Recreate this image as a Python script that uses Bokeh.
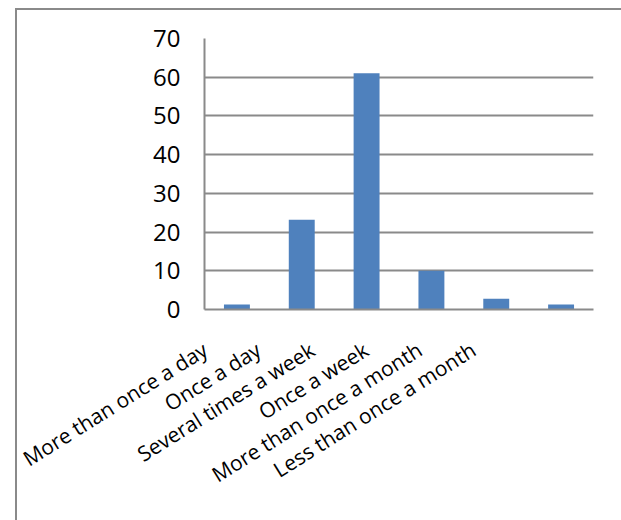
import math
from bokeh.plotting import figure
from bokeh.models import Range1d, LinearAxis, FixedTicker, ColumnDataSource
from bokeh.embed import file_html
from bokeh.resources import INLINE

categories = ["More than once a day", "Once a day", "Several times a week",
              "Once a week", "More than once a month", "Less than once a month"]
counts = [1.3, 23.2, 61, 10, 2.8, 1.3]
y_ticks = [0, 10, 20, 30, 40, 50, 60, 70]

GRAY = "#8a8a8a"
FONT = "Open Sans"

idx = list(range(len(categories)))
src = ColumnDataSource(dict(idx=idx, cat=categories, val=counts))

p = figure(width=606, height=512,
           x_range=Range1d(-0.5, len(categories) - 0.5),
           y_range=Range1d(0, 70),
           output_backend="svg", toolbar_location=None,
           x_axis_location=None,
           margin=(8, 0, 0, 15),
           min_border_left=187, min_border_right=30,
           min_border_top=28, min_border_bottom=213)
p.styles = {"border-left": "2px solid " + GRAY, "border-top": "2px solid " + GRAY}
p.outline_line_color = None
p.background_fill_color = "white"
p.border_fill_color = "white"

p.vbar(x="idx", top="val", width=0.4, source=src, fill_color="#4F81BD", line_color=None)

p.xgrid.visible = False
p.ygrid.ticker = FixedTicker(ticks=y_ticks)
p.ygrid.grid_line_color = GRAY
p.ygrid.grid_line_width = 2

ya = p.yaxis[0]
ya.ticker = FixedTicker(ticks=y_ticks)
ya.major_tick_line_color = None
ya.minor_tick_line_color = None
ya.major_tick_out = 0
ya.major_tick_in = 0
ya.axis_line_color = GRAY
ya.axis_line_width = 2
ya.major_label_standoff = 24
ya.major_label_text_font = FONT
ya.major_label_text_font_size = "24px"
ya.major_label_text_color = "black"

p.extra_x_ranges = {"lab": Range1d(-0.0056, 7.233)}
xa = LinearAxis(x_range_name="lab",
                ticker=FixedTicker(ticks=idx),
                major_label_overrides={i: c for i, c in zip(idx, categories)},
                major_label_orientation=math.radians(32),
                major_tick_line_color=None, minor_tick_line_color=None,
                major_tick_out=0, major_tick_in=0,
                axis_line_color=GRAY, axis_line_width=2,
                major_label_standoff=38,
                major_label_text_font=FONT,
                major_label_text_font_size="21px",
                major_label_text_color="black")
p.add_layout(xa, "below")

open("out.html", "w").write(file_html(p, INLINE))
